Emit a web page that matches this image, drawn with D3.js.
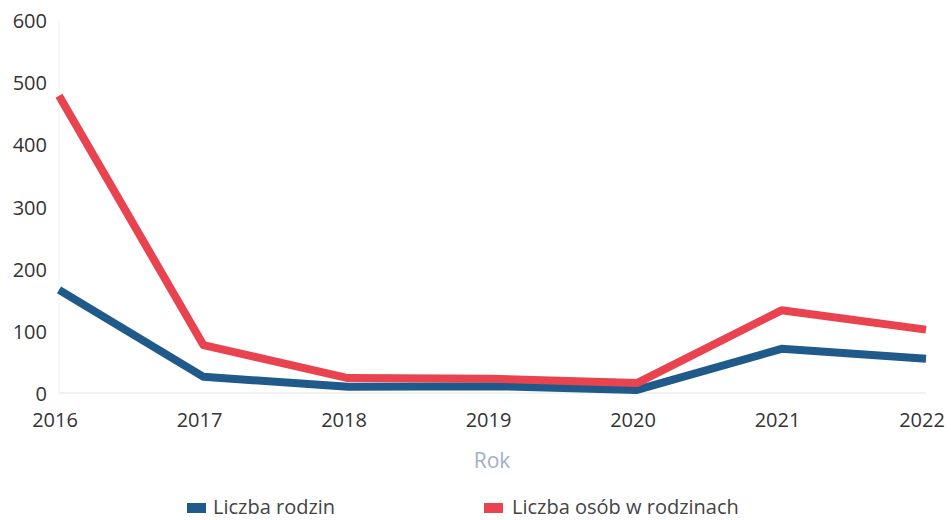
<!DOCTYPE html>
<html>
<head>
<meta charset="utf-8">
<script src="https://cdn.jsdelivr.net/npm/d3@7"></script>
<style>
  body { margin: 0; background: #fff; }
  text { font-family: "Open Sans", sans-serif; }
</style>
</head>
<body>
<div id="chart"></div>
<script>
const years = [2016, 2017, 2018, 2019, 2020, 2021, 2022];
const rodziny = [166, 26, 10, 11, 5, 71, 55];
const osoby = [478, 77, 24, 23, 16, 133, 102];
const yTicks = [0, 100, 200, 300, 400, 500, 600];
const seriesNames = ["Liczba rodzin", "Liczba osób w rodzinach"];
const seriesColors = ["#1f5a8a", "#e8434f"];

const width = 951, height = 520;
const margin = { top: 20, right: 25, bottom: 127, left: 59 };

const svg = d3.select("#chart").append("svg")
    .attr("width", width)
    .attr("height", height);

const x = d3.scalePoint()
    .domain(years)
    .range([margin.left, width - margin.right]);

const y = d3.scaleLinear()
    .domain([0, 600])
    .range([height - margin.bottom, margin.top]);

// y axis labels
svg.append("g")
    .selectAll("text")
    .data(yTicks)
    .join("text")
    .attr("x", 47)
    .attr("y", d => y(d) + 8)
    .attr("text-anchor", "end")
    .attr("fill", "#333")
    .style("font-size", "20px")
    .text(d => d);

// faint vertical axis line
svg.append("line")
    .attr("x1", margin.left).attr("x2", margin.left)
    .attr("y1", y(600)).attr("y2", y(0))
    .attr("stroke", "#eef0f4").attr("stroke-width", 1);

// baseline
svg.append("line")
    .attr("x1", margin.left).attr("x2", width - margin.right)
    .attr("y1", y(0)).attr("y2", y(0))
    .attr("stroke", "#e3e3e3").attr("stroke-width", 1);

// x axis labels
svg.append("g")
    .selectAll("text")
    .data(years)
    .join("text")
    .attr("x", d => x(d) - 4)
    .attr("y", y(0) + 34)
    .attr("text-anchor", "middle")
    .attr("fill", "#333")
    .style("font-size", "20px")
    .text(d => d);

svg.append("text")
    .attr("x", 492)
    .attr("y", 468)
    .attr("text-anchor", "middle")
    .attr("fill", "#9fb0cc")
    .style("font-size", "21px")
    .text("Rok");

const line = d3.line()
    .x((d, i) => x(years[i]))
    .y(d => y(d));

[rodziny, osoby].forEach((vals, k) => {
    svg.append("path")
        .attr("fill", "none")
        .attr("stroke", seriesColors[k])
        .attr("stroke-width", 8)
        .attr("stroke-linejoin", "round")
        .attr("d", line(vals));
});

// legend
const legendX = [187, 484];
seriesNames.forEach((name, k) => {
    const g = svg.append("g").attr("transform", `translate(${legendX[k]},503)`);
    g.append("rect")
        .attr("width", 19).attr("height", 10)
        .attr("fill", seriesColors[k]);
    g.append("text")
        .attr("x", 26 + k * 2).attr("y", 11)
        .attr("fill", "#444")
        .style("font-size", "20px")
        .text(name);
});
</script>
</body>
</html>
